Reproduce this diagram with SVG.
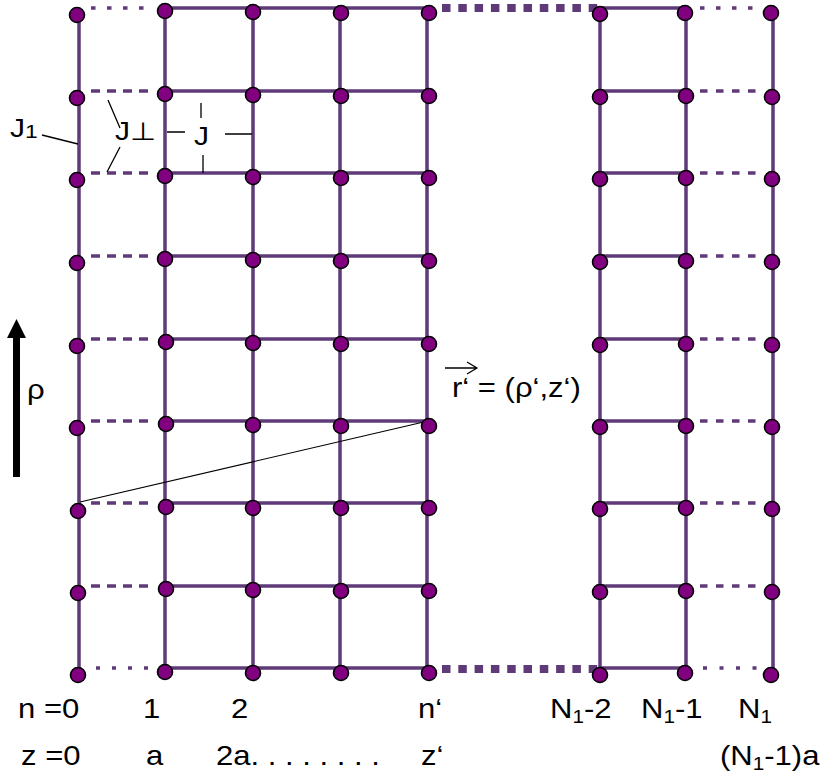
<svg xmlns="http://www.w3.org/2000/svg" width="825" height="775" viewBox="0 0 825 775">
<style>
.ln{stroke:#5f3a78;stroke-width:3.5;fill:none}
.da{stroke:#5f3a78;stroke-width:3.5;fill:none;stroke-dasharray:9 7}
.dt{stroke:#5f3a78;stroke-width:3.5;fill:none;stroke-dasharray:4.5 11.5}
.dr{stroke:#5f3a78;stroke-width:3.5;fill:none;stroke-dasharray:7.5 8.5}
.tk{stroke:#5f3a78;stroke-width:8;fill:none;stroke-dasharray:8.5 7.8}
.site{fill:#800080;stroke:#000;stroke-width:1.6}
.lb{stroke:#000;stroke-width:1.3;fill:none}
.t{font-family:"Liberation Sans",Arial,sans-serif;font-size:27px;fill:#000}
.j{font-family:"Liberation Sans",Arial,sans-serif;font-size:25px;fill:#000}
</style>
<rect width="825" height="775" fill="#fff"/>
<g id="connectors">
  <path class="ln" d="M79 15V675M165 8V668M253 8V668M340 8V668M427 8V668M600 8V668M686 8V668M773 13V675"/>
  <path class="ln" d="M165 8H427M165 91H427M165 173H427M165 256H427M165 339H427M165 421H427M165 503H427M165 586H427M165 668H427"/>
  <path class="ln" d="M600 8H686M600 91H686M600 173H686M600 256H686M600 339H686M600 421H686M600 503H686M600 586H686M600 668H686"/>
  <path class="dt" d="M91 8H148"/>
  <path class="da" d="M91 91H149M91 173H149M91 256H149M91 339H149M91 421H149M91 503H149M91 586H149"/>
  <path class="ln" style="stroke-dasharray:4 12" d="M96 668H150"/>
  <path class="dt" d="M700 8H756"/>
  <path class="dr" d="M700 91H757M700 173H757M700 256H757M700 339H757M700 421H757M700 503H757M700 586H757"/>
  <path class="ln" style="stroke-dasharray:4 12.5" d="M703 668H758"/>
  <path class="tk" d="M442 8H598M442 669H598"/>
  <path stroke="#000" stroke-width="1.2" d="M80 502L428 421"/>
</g>
<g id="sites">
  <g id="col0">
    <circle class="site" cx="77" cy="15" r="7.5"/><circle class="site" cx="77" cy="98" r="7.5"/><circle class="site" cx="77" cy="180" r="7.5"/><circle class="site" cx="77" cy="263" r="7.5"/><circle class="site" cx="77" cy="346" r="7.5"/><circle class="site" cx="77" cy="428" r="7.5"/><circle class="site" cx="78" cy="511" r="7.5"/><circle class="site" cx="78" cy="593" r="7.5"/><circle class="site" cx="78" cy="675" r="7.5"/>
  </g>
  <g id="col1">
    <circle class="site" cx="165" cy="11" r="7.5"/><circle class="site" cx="165" cy="94" r="7.5"/><circle class="site" cx="165" cy="176" r="7.5"/><circle class="site" cx="165" cy="259" r="7.5"/><circle class="site" cx="166" cy="342" r="7.5"/><circle class="site" cx="166" cy="424" r="7.5"/><circle class="site" cx="166" cy="507" r="7.5"/><circle class="site" cx="166" cy="589" r="7.5"/><circle class="site" cx="165" cy="672" r="7.5"/>
  </g>
  <g id="col2">
    <circle class="site" cx="253" cy="12" r="7.5"/><circle class="site" cx="253" cy="95" r="7.5"/><circle class="site" cx="253" cy="177" r="7.5"/><circle class="site" cx="253" cy="260" r="7.5"/><circle class="site" cx="253" cy="343" r="7.5"/><circle class="site" cx="253" cy="425" r="7.5"/><circle class="site" cx="253" cy="508" r="7.5"/><circle class="site" cx="253" cy="590" r="7.5"/><circle class="site" cx="253" cy="673" r="7.5"/>
  </g>
  <g id="col3">
    <circle class="site" cx="341" cy="13" r="7.5"/><circle class="site" cx="341" cy="96" r="7.5"/><circle class="site" cx="341" cy="178" r="7.5"/><circle class="site" cx="341" cy="261" r="7.5"/><circle class="site" cx="341" cy="344" r="7.5"/><circle class="site" cx="341" cy="426" r="7.5"/><circle class="site" cx="341" cy="508" r="7.5"/><circle class="site" cx="341" cy="591" r="7.5"/><circle class="site" cx="341" cy="673" r="7.5"/>
  </g>
  <g id="coln">
    <circle class="site" cx="429" cy="13" r="7.5"/><circle class="site" cx="429" cy="96" r="7.5"/><circle class="site" cx="429" cy="178" r="7.5"/><circle class="site" cx="429" cy="261" r="7.5"/><circle class="site" cx="429" cy="344" r="7.5"/><circle class="site" cx="429" cy="426" r="7.5"/><circle class="site" cx="429" cy="508" r="7.5"/><circle class="site" cx="429" cy="591" r="7.5"/><circle class="site" cx="429" cy="673" r="7.5"/>
  </g>
  <g id="colN2">
    <circle class="site" cx="600" cy="14" r="7.5"/><circle class="site" cx="600" cy="97" r="7.5"/><circle class="site" cx="600" cy="179" r="7.5"/><circle class="site" cx="600" cy="262" r="7.5"/><circle class="site" cx="600" cy="345" r="7.5"/><circle class="site" cx="600" cy="427" r="7.5"/><circle class="site" cx="600" cy="509" r="7.5"/><circle class="site" cx="600" cy="592" r="7.5"/><circle class="site" cx="600" cy="675" r="7.5"/>
  </g>
  <g id="colN1">
    <circle class="site" cx="685" cy="13" r="7.5"/><circle class="site" cx="686" cy="96" r="7.5"/><circle class="site" cx="686" cy="178" r="7.5"/><circle class="site" cx="686" cy="261" r="7.5"/><circle class="site" cx="686" cy="344" r="7.5"/><circle class="site" cx="686" cy="426" r="7.5"/><circle class="site" cx="686" cy="508" r="7.5"/><circle class="site" cx="686" cy="591" r="7.5"/><circle class="site" cx="685" cy="673" r="7.5"/>
  </g>
  <g id="colN">
    <circle class="site" cx="771" cy="13" r="7.5"/><circle class="site" cx="772" cy="97" r="7.5"/><circle class="site" cx="772" cy="179" r="7.5"/><circle class="site" cx="772" cy="262" r="7.5"/><circle class="site" cx="772" cy="345" r="7.5"/><circle class="site" cx="772" cy="427" r="7.5"/><circle class="site" cx="772" cy="509" r="7.5"/><circle class="site" cx="772" cy="592" r="7.5"/><circle class="site" cx="771" cy="675" r="7.5"/>
  </g>
</g>
<g id="couplings">
  <text class="j" transform="translate(10 137) scale(1.2 1)">J<tspan font-size="19" dy="1">1</tspan></text>
  <path class="lb" d="M42 135L78 144"/>
  <text class="j" transform="translate(115 140) scale(1.2 1)">J⊥</text>
  <path class="lb" d="M108 100L120 128M120 147L107 172"/>
  <text class="j" transform="translate(194 145) scale(1.2 1)">J</text>
  <path class="lb" d="M167 132H185M225 134H252M201 103V118M203 155V173"/>
</g>
<g id="rho-axis">
  <rect x="13" y="336" width="7" height="141" fill="#000"/>
  <polygon points="7,338 26,338 16.5,319" fill="#000"/>
  <text class="t" transform="translate(27 399) scale(1.15 1)" font-size="29">ρ</text>
</g>
<g id="vector">
  <text class="t" transform="translate(452 397) scale(1.15 1)">r‘ = (ρ‘,z‘)</text>
  <path class="lb" d="M445 368H477M467 362L477 368L467 374"/>
</g>
<g id="axis-labels">
  <text class="t" transform="translate(18 718) scale(1.15 1)">n =0</text>
  <text class="t" transform="translate(143 718) scale(1.15 1)">1</text>
  <text class="t" transform="translate(231 718) scale(1.15 1)">2</text>
  <text class="t" transform="translate(418 718) scale(1.15 1)">n‘</text>
  <text class="t" transform="translate(550 718) scale(1.15 1)">N<tspan font-size="18" dy="5">1</tspan><tspan dy="-5">-2</tspan></text>
  <text class="t" transform="translate(641 718) scale(1.15 1)">N<tspan font-size="18" dy="5">1</tspan><tspan dy="-5">-1</tspan></text>
  <text class="t" transform="translate(738 718) scale(1.15 1)">N<tspan font-size="18" dy="5">1</tspan></text>
  <text class="t" transform="translate(21 765) scale(1.15 1)">z =0</text>
  <text class="t" transform="translate(146 765) scale(1.15 1)">a</text>
  <text class="t" transform="translate(216 765) scale(1.15 1)">2a. . . . . . . .</text>
  <text class="t" transform="translate(421 765) scale(1.15 1)">z‘</text>
  <text class="t" transform="translate(720 765) scale(1.15 1)">(N<tspan font-size="18" dy="5">1</tspan><tspan dy="-5">-1)a</tspan></text>
</g>
</svg>
